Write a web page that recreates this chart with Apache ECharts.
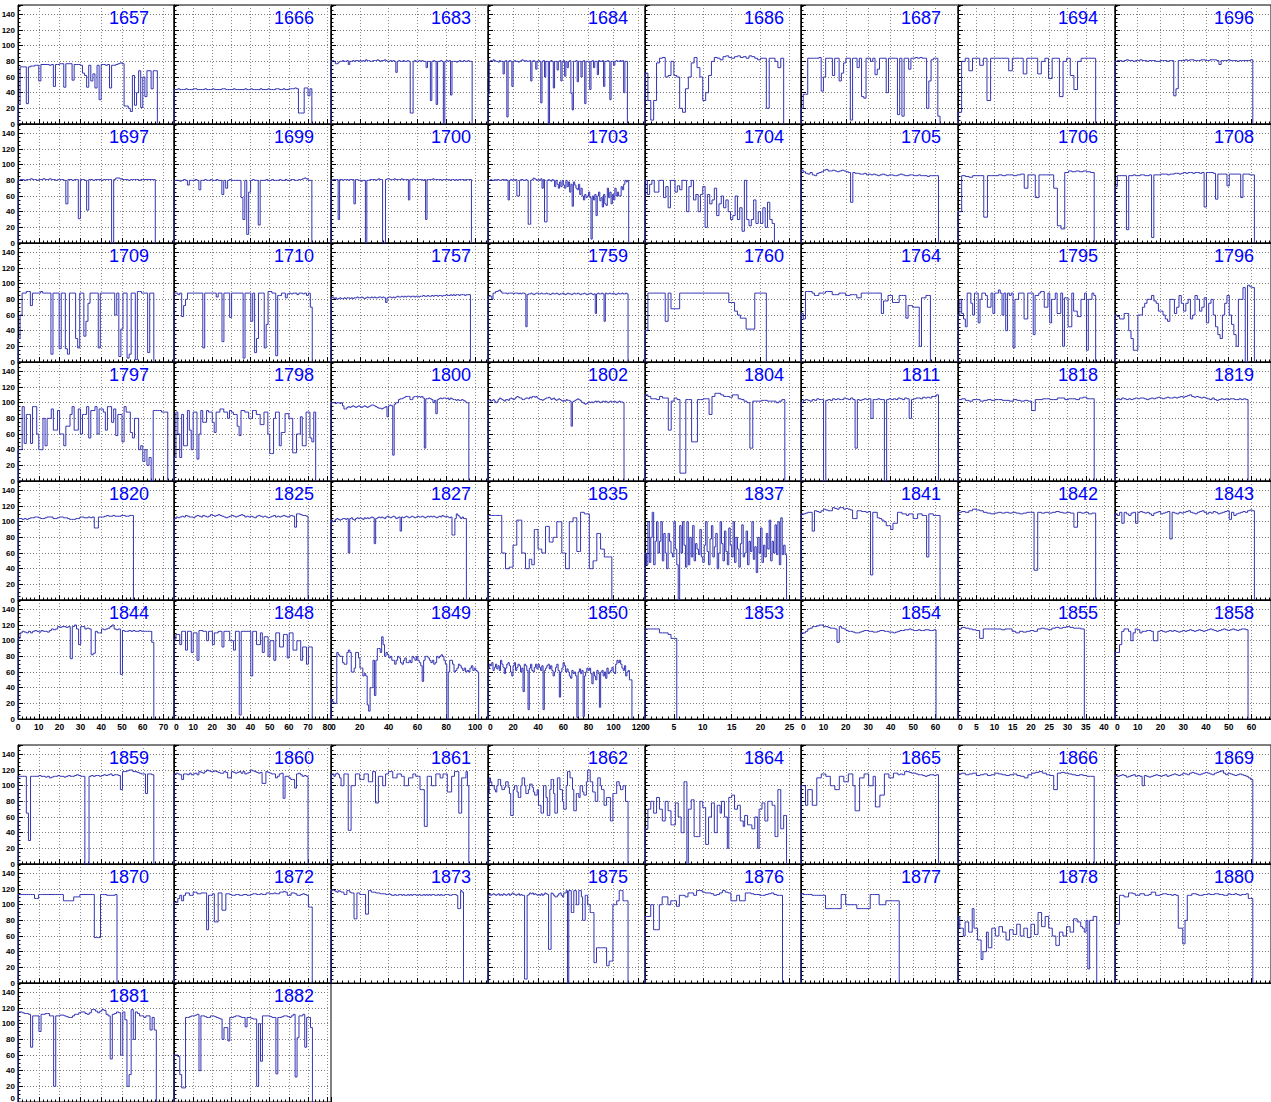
<!DOCTYPE html>
<html><head><meta charset="utf-8">
<script src="https://cdn.jsdelivr.net/npm/echarts@6/dist/echarts.min.js"></script>
<style>html,body{margin:0;padding:0;background:#fff}#c{width:1271px;height:1102px}</style>
</head><body><div id="c"></div>
<script>
const panelIds = [1657,1666,1683,1684,1686,1687,1694,1696,
 1697,1699,1700,1703,1704,1705,1706,1708,
 1709,1710,1757,1759,1760,1764,1795,1796,
 1797,1798,1800,1802,1804,1811,1818,1819,
 1820,1825,1827,1835,1837,1841,1842,1843,
 1844,1848,1849,1850,1853,1854,1855,1858,
 1859,1860,1861,1862,1864,1865,1866,1869,
 1870,1872,1873,1875,1876,1877,1878,1880,
 1881,1882];
const colXMax = [75,82,109,125,27,70,43,68.6];
const colXInterval = [10,10,20,20,5,10,5,10];
const yTicks = [0,20,40,60,80,100,120,140];
const dataEnds = [67,72,98,111,24,62,37.7,60.6,
 66,72,97.5,112,22.4,61.3,37.3,61.3,
 65.3,72.2,96.8,111.5,21,57.7,37.7,61.3,
 72,74,95.7,108.3,24.2,61.3,37.3,58.5,
 55.5,70,94,98.6,24.5,62,37.7,61.3,
 65.3,72.2,102.5,114.6,5.5,60.2,34.6,58.5,
 65.3,70,95.7,111.5,24.5,61.3,37.3,60.6,
 47.6,72.2,92,111.5,23.8,43.8,38,60.6,
 66.5,72.3];

const v1657=[25,73,73,73,26,73,74,74,75,75,55,76,76,76,76,75,76,48,76,76,77,77,47,77,77,77,56,76,76,76,75,65,62,47,75,55,64,46,75,31,76,76,75,76,46,75,75,76,77,78,77,23,23,20,16,62,24,40,68,21,60,35,68,68,45,68,68];
const v1666=[44,44,45,44,44,44,45,44,44,44,45,45,44,44,44,44,45,44,44,44,45,44,44,44,44,45,45,44,44,44,44,45,44,44,44,44,44,45,44,44,45,44,44,44,44,45,44,44,44,45,44,44,44,45,45,44,44,45,44,44,45,45,45,46,45,14,14,14,46,46,36,45];
const v1683=[80,81,80,77,77,79,80,80,81,80,80,81,76,80,80,81,80,81,81,80,81,80,81,80,82,81,81,80,80,81,81,81,82,81,80,81,81,82,81,80,80,81,80,81,80,66,80,81,80,80,81,80,80,81,80,14,14,80,81,80,80,81,80,81,80,80,72,80,80,30,80,81,80,25,80,80,81,80,0,80,81,80,81,37,80,80,80,79,80,81,80,80,81,80,80,81,80,80];
const v1684=[38,80,81,80,82,81,80,80,79,81,80,80,64,80,81,9,80,81,80,48,80,81,80,80,79,80,81,82,81,80,81,80,80,81,55,80,81,80,70,80,81,80,27,80,81,60,80,80,0,80,81,80,46,80,80,69,80,81,55,80,81,61,80,72,80,81,39,18,80,80,81,54,80,80,60,80,81,26,80,80,80,44,80,81,72,80,80,63,81,80,80,81,48,80,80,81,80,31,80,80,75,80,81,80,80,81,80,81,40,80,80];
const v1686=[65,30,5,30,78,84,85,60,62,80,62,60,20,15,45,60,78,85,72,60,30,40,62,80,85,84,82,86,87,85,84,86,87,85,86,84,87,86,84,82,84,84,20,84,84,80,72,84];
const v1687=[20,38,38,84,84,84,84,84,85,42,60,84,84,84,62,84,84,55,65,78,84,84,5,84,84,72,84,35,33,84,84,80,84,63,70,84,84,84,40,84,84,84,84,12,84,10,84,84,70,84,84,85,84,85,84,84,20,55,82,84,84,10];
const v1694=[15,80,84,68,84,84,75,84,30,84,84,84,84,84,68,84,84,84,64,84,84,84,64,80,84,58,84,84,35,80,84,62,44,80,84,84,84,84];
const v1696=[80,81,81,80,81,82,81,81,80,81,81,82,81,81,80,81,81,81,80,80,81,81,81,80,81,81,36,45,81,81,81,82,81,82,82,81,81,81,82,82,81,81,82,82,82,81,76,81,81,81,82,81,81,81,80,81,81,81,81,81,82];
const v1697=[80,81,81,80,81,81,82,81,81,80,81,81,82,81,81,82,81,81,80,81,81,81,80,50,81,81,80,81,81,31,81,81,80,42,81,81,80,81,81,81,80,81,81,81,81,0,81,83,83,82,81,81,81,80,81,81,81,81,80,81,81,81,81,81,81,81];
const v1699=[80,80,80,79,80,81,80,74,80,80,80,81,80,68,80,80,81,80,80,81,80,80,81,80,80,62,80,70,80,81,80,80,80,80,80,58,30,80,11,65,80,81,80,80,23,80,80,80,81,80,80,81,80,80,80,81,80,80,81,80,80,81,81,80,80,81,81,82,83,82,80,80];
const v1700=[80,81,81,81,81,30,81,81,80,81,81,81,80,81,81,81,50,81,81,80,80,79,80,80,0,80,80,81,81,81,81,80,81,82,81,81,0,0,81,82,82,81,81,81,82,81,81,81,81,82,81,81,81,81,55,81,81,82,81,81,81,81,81,81,80,81,30,81,81,81,81,82,81,81,81,81,81,80,81,81,81,81,81,80,81,81,80,81,80,81,81,81,81,80,81,81,81,81];
const v1703=[80,80,81,80,80,81,80,81,81,80,80,81,81,80,81,80,55,80,81,80,81,80,81,60,60,80,81,81,80,80,81,80,24,24,80,81,83,82,81,80,81,80,82,70,81,27,27,80,81,80,79,81,80,72,80,75,70,78,72,80,74,70,80,72,78,65,75,47,78,74,70,68,75,62,70,60,55,62,58,60,65,58,5,60,55,62,35,60,65,54,58,46,62,50,48,70,58,65,50,62,55,70,60,65,60,60,72,68,75,80,78,80];
const v1704=[80,62,75,80,65,65,80,80,58,72,45,80,80,65,73,68,80,80,40,72,80,55,62,40,62,72,20,62,50,55,70,35,50,60,45,55,40,30,35,60,30,45,15,80,30,22,30,55,25,40,25,45,20,52,30,25];
const v1705=[93,91,89,88,90,87,86,89,90,91,93,94,92,92,93,92,91,92,93,92,91,90,52,90,89,89,88,88,89,87,88,87,88,87,86,87,88,87,86,87,87,86,86,87,88,87,86,86,87,87,86,86,87,86,86,86,85,86,86,86,86];
const v1706=[40,86,85,84,86,86,86,33,86,86,86,87,86,87,87,86,87,88,70,87,87,58,87,87,87,87,70,22,18,90,92,91,92,91,92,91,90];
const v1708=[72,86,86,86,86,17,86,86,87,86,86,87,87,86,86,87,7,87,87,87,88,88,88,87,88,88,89,89,88,89,90,89,90,90,89,90,90,89,90,46,90,90,90,89,56,88,88,88,88,73,88,88,88,88,88,58,88,88,88,87,87];
const v1709=[30,60,88,88,90,90,72,88,88,88,88,90,88,88,88,88,10,88,88,88,17,88,88,17,10,88,88,88,30,18,88,88,33,52,75,88,88,88,88,18,88,88,88,88,88,88,88,60,88,7,42,88,88,5,10,88,88,3,90,90,88,88,88,12,88,88];
const v1710=[88,88,86,88,58,72,80,88,88,88,88,88,88,88,88,18,88,88,88,88,88,88,83,88,88,26,88,88,88,57,88,88,88,88,88,88,5,88,88,88,52,88,12,30,88,88,88,18,48,90,90,88,88,8,85,85,88,88,82,87,88,87,88,88,86,88,88,87,88,85,88,70];
const v1757=[82,83,81,82,80,81,82,81,81,82,81,82,82,81,82,81,82,82,83,82,82,83,82,81,82,83,82,82,83,82,83,82,82,83,83,82,83,82,76,82,83,83,82,83,82,83,84,83,83,84,83,84,83,84,84,83,84,84,83,84,84,83,84,84,85,84,84,85,84,84,85,84,85,85,84,85,85,84,85,85,86,85,85,86,85,86,85,86,86,85,86,86,86,85,86,86,86];
const v1759=[84,84,84,80,88,88,90,90,91,92,90,88,88,88,88,87,88,88,88,88,87,88,88,88,87,88,87,88,88,87,45,86,87,87,88,87,86,87,88,88,87,87,88,87,87,87,88,87,87,86,87,88,87,87,88,87,86,87,87,88,87,86,87,88,87,87,86,87,88,87,87,88,87,86,87,87,88,87,86,87,87,88,87,86,87,62,87,88,87,87,88,87,52,88,87,87,88,87,87,88,87,86,87,88,87,87,88,87,87,88,87];
const v1760=[40,88,88,88,88,88,88,52,88,68,68,68,88,88,88,88,88,88,88,88,88,88,88,88,88,88,88,88,88,76,76,65,60,56,56,42,42,42,88,88,88,88];
const v1764=[62,55,90,90,90,88,85,85,88,88,88,90,90,90,86,86,86,88,88,88,85,85,86,86,86,82,82,88,88,88,88,88,88,88,88,88,62,78,78,85,85,76,76,76,85,85,85,56,72,72,70,70,70,20,82,82,85,85];
const v1795=[60,80,62,55,45,88,88,75,60,88,88,50,80,88,88,85,70,70,88,62,88,88,92,88,60,88,40,88,85,88,18,80,80,88,88,88,55,55,88,88,88,35,85,85,88,90,90,70,70,88,50,80,80,88,62,62,88,20,82,82,45,45,88,65,65,58,58,80,80,88,15,80,80,88,85];
const v1796=[60,58,55,55,62,62,40,30,15,15,60,60,70,75,80,80,85,78,75,65,65,60,55,52,80,80,62,70,85,75,65,75,80,55,60,85,80,65,70,82,50,75,80,60,45,35,30,60,75,85,60,48,35,20,80,80,95,0,98,96,95];
const v1797=[40,40,95,48,85,85,48,95,95,60,40,40,80,45,80,80,92,65,65,90,60,60,45,70,70,85,95,65,65,92,60,85,85,95,55,90,90,95,60,92,92,88,65,95,95,75,92,58,85,85,50,95,88,88,62,55,80,80,40,45,25,40,20,30,0,90,90,90,90,88,88,88];
const v1798=[30,88,60,30,85,45,45,90,65,40,88,88,28,60,90,75,75,90,88,88,75,62,88,88,92,92,88,88,80,90,88,85,85,70,58,90,90,88,88,80,80,90,90,85,85,72,72,88,88,60,35,35,80,88,88,45,62,62,86,86,80,80,36,36,60,60,82,45,45,88,88,55,50,88];
const v1800=[100,100,100,99,100,100,99,100,96,92,92,94,95,94,95,96,95,94,95,96,95,94,95,96,95,94,95,96,97,97,96,95,94,93,93,92,93,94,95,82,96,97,96,33,98,100,100,104,105,105,106,107,108,108,108,104,104,107,108,108,107,108,107,108,106,42,105,105,106,105,104,100,103,86,104,105,106,105,106,106,105,106,104,106,105,104,104,103,104,103,103,104,103,102,100,100];
const v1802=[103,104,102,103,104,102,100,101,104,106,105,104,103,102,104,104,103,105,106,105,104,105,107,108,107,106,106,104,104,105,106,106,105,107,106,108,108,107,108,106,105,104,104,103,104,105,106,106,107,106,104,105,106,104,103,104,105,104,103,102,103,102,104,103,103,102,70,101,102,103,104,105,104,103,101,100,99,98,99,100,101,100,101,100,101,102,101,102,101,100,101,102,101,102,101,100,101,102,101,101,102,101,100,101,102,101,101,100];
const v1804=[110,108,105,105,104,108,106,106,65,102,106,104,10,10,104,104,50,50,104,104,105,105,85,108,112,112,110,108,108,107,110,110,105,104,102,100,42,102,102,102,103,103,102,102,102,100,102,104];
const v1811=[100,103,104,103,102,104,103,105,104,104,0,103,104,103,105,104,105,104,104,106,105,104,106,104,42,104,103,104,105,104,105,80,104,104,105,104,104,0,104,105,104,105,104,106,105,104,106,105,80,104,105,106,106,105,107,106,107,106,108,108,110];
const v1818=[104,105,103,102,104,104,102,103,104,103,104,104,103,103,102,104,103,102,103,102,90,104,104,105,105,104,104,106,106,104,105,105,104,106,107,105,105];
const v1819=[104,105,104,106,105,104,105,104,105,106,105,106,106,105,104,105,106,105,106,107,106,105,106,107,106,106,107,106,107,108,107,108,109,110,108,107,108,107,106,107,106,105,104,106,104,103,104,105,104,105,104,105,105,104,104,105,104,105,104];
const v1820=[104,104,103,104,103,104,105,105,106,106,105,104,104,105,106,106,106,104,104,105,106,106,105,105,104,103,103,103,104,104,106,106,105,105,106,105,106,92,92,106,106,106,107,108,107,107,108,107,107,107,108,108,107,107,108,108];
const v1825=[104,106,105,106,107,106,108,107,106,106,105,107,108,107,106,108,107,106,107,109,108,107,108,109,108,107,106,105,106,107,108,107,106,107,108,109,108,106,107,106,107,106,105,107,108,107,106,107,106,105,106,107,108,106,107,106,107,108,107,106,107,108,107,93,110,110,109,108,108,107];
const v1827=[102,100,101,103,104,103,102,103,104,104,103,104,60,104,105,103,102,104,105,104,105,104,103,105,104,105,104,105,106,105,72,104,105,106,105,106,105,104,106,107,106,105,106,107,106,104,105,106,88,106,105,106,107,106,105,106,107,106,105,106,107,106,106,107,106,105,106,107,106,107,106,107,106,105,106,107,106,108,107,106,107,106,105,106,83,83,104,110,108,106,104,106,104,104];
const v1835=[108,108,108,108,108,108,108,108,108,108,108,60,60,60,40,40,40,42,42,42,70,70,70,102,102,102,102,60,60,60,40,40,40,52,52,45,45,90,90,90,65,65,65,60,60,60,94,94,94,74,74,74,80,80,80,100,100,100,100,60,60,60,40,40,40,100,100,100,105,105,105,62,62,62,112,112,112,110,110,110,110,40,40,40,50,50,50,85,85,85,65,65,65,55,55,55,55,55,55];
const v1837=[60,45,100,48,80,112,45,75,100,60,75,100,50,85,60,40,85,75,60,55,100,65,45,0,95,60,100,70,42,100,45,80,55,95,50,72,65,58,90,55,48,70,100,62,45,78,95,55,68,85,40,60,100,72,50,88,62,45,92,70,55,100,48,80,65,42,72,96,55,60,88,45,75,62,100,52,68,35,80,60,92,48,70,55,85,65,102,50,75,60,96,58,100,45,105,58,70,58];
const v1841=[110,110,111,112,112,88,114,113,112,114,116,115,114,114,118,117,116,118,118,116,117,116,115,104,104,114,114,113,113,112,113,32,112,112,105,104,102,100,95,95,90,98,98,112,112,110,110,108,110,110,104,104,110,110,108,108,55,110,110,108,108,108];
const v1842=[112,113,112,114,116,115,114,112,111,110,111,112,111,112,111,112,111,110,111,112,112,38,112,111,112,111,112,113,112,111,112,111,93,112,111,112,110,111];
const v1843=[110,108,112,98,112,110,108,111,112,98,112,113,112,111,112,110,108,111,112,113,110,111,112,113,78,112,111,110,112,111,112,113,114,112,111,110,112,113,114,112,110,112,111,113,112,110,111,112,113,114,103,112,108,110,111,112,113,112,114,115,114];
const v1844=[103,110,112,111,110,112,110,112,113,112,111,113,112,112,111,113,115,114,115,118,117,118,118,117,118,77,118,120,115,95,118,118,115,116,115,82,84,112,110,110,115,114,115,116,118,120,115,114,115,57,113,112,112,113,112,113,112,112,113,112,112,112,112,112,98];
const v1848=[102,108,108,95,112,112,88,112,112,85,110,110,75,113,113,112,112,100,112,112,95,110,110,112,112,92,112,112,112,100,100,88,112,112,5,112,112,112,112,112,55,112,112,95,95,110,85,105,105,80,100,100,75,110,110,92,92,108,108,78,110,110,88,88,100,100,75,92,92,70,92,92];
const v1849=[25,22,20,20,85,82,80,80,72,70,70,85,88,85,60,60,65,85,85,78,65,65,55,58,55,18,10,40,40,75,30,75,90,90,85,105,95,80,85,82,78,80,75,75,70,75,80,78,72,70,75,78,72,72,75,72,80,78,75,80,75,72,68,48,75,80,80,78,75,72,75,70,72,80,78,80,82,80,75,70,0,60,75,75,70,60,62,65,70,68,65,62,65,60,62,60,65,68,62,65,62,60];
const v1850=[65,70,68,72,62,66,70,64,68,62,75,70,66,58,65,70,72,68,60,55,68,72,62,66,70,68,60,65,35,70,68,62,12,65,70,62,60,66,70,64,70,66,62,68,12,62,65,68,70,64,68,62,55,60,66,70,62,28,60,65,72,68,60,64,60,55,52,62,58,60,55,2,60,64,58,62,3,55,60,65,62,65,58,45,60,55,50,62,58,15,60,62,55,60,52,65,58,60,62,66,60,58,70,75,72,75,70,65,62,68,55,60,62,50,50];
const v1853=[115,115,115,115,115,110,110,110,108,103,103];
const v1854=[110,110,112,115,116,118,118,119,120,120,118,118,117,116,116,115,98,118,116,115,113,112,112,111,110,110,111,112,113,113,112,112,111,111,112,113,113,112,112,111,111,110,111,112,113,113,114,114,115,114,113,113,114,113,113,114,114,113,113,114];
const v1855=[115,117,116,115,114,113,103,115,115,115,115,115,114,115,115,112,110,112,111,112,113,112,115,116,115,114,116,117,116,117,118,117,116,116,115];
const v1858=[85,85,95,112,115,115,112,100,110,115,114,110,112,112,113,113,112,100,100,112,113,112,111,112,113,112,113,112,111,112,113,112,113,114,113,112,113,114,113,112,113,114,115,114,113,112,113,114,115,114,113,114,115,114,113,114,115,115,114];
const v1859=[112,112,112,112,65,30,112,112,112,112,113,112,112,111,112,110,111,112,112,113,112,112,111,112,113,112,112,113,114,113,112,112,0,0,112,113,112,113,113,112,113,114,113,114,115,113,114,114,113,95,118,118,119,120,120,118,118,117,116,115,115,90,115,115,114];
const v1860=[115,116,115,114,108,115,115,114,116,114,115,116,114,118,117,116,118,120,119,118,118,119,118,117,116,116,118,117,110,110,118,117,116,117,118,116,118,115,116,117,120,119,118,117,116,117,103,103,118,117,116,115,115,110,112,115,116,84,112,112,110,108,108,97,115,116,114,112,113,112];
const v1861=[115,115,112,115,116,114,110,100,100,115,115,115,43,43,100,100,100,115,115,115,108,108,108,115,115,115,105,105,105,118,118,78,78,112,112,112,100,100,115,115,118,118,118,110,110,110,115,115,115,112,112,100,100,100,110,110,110,115,115,112,112,112,95,95,95,48,48,112,112,112,100,100,100,115,115,115,110,110,115,115,115,92,92,92,112,112,118,118,118,65,65,110,110,110,118,100];
const v1862=[90,110,105,100,100,95,92,100,108,108,100,95,95,98,105,105,98,90,62,62,95,100,100,92,85,85,100,110,110,100,90,90,95,102,102,98,92,88,88,95,75,75,65,65,100,100,85,62,62,95,108,108,90,65,65,110,110,95,95,80,70,70,100,118,118,110,110,95,68,68,90,90,85,100,100,92,88,88,105,120,120,105,105,92,92,80,80,110,110,100,95,95,75,75,85,85,85,55,55,90,90,90,105,105,100,95,95,100,100,80,80];
const v1864=[45,45,70,70,80,80,65,65,85,85,70,70,55,55,80,80,68,68,50,50,50,78,78,60,60,40,40,105,105,0,70,70,82,82,35,35,35,35,80,80,72,72,25,25,60,60,78,78,40,40,75,75,65,80,80,60,60,20,85,85,88,88,70,70,75,75,55,55,48,62,62,50,50,50,45,45,60,60,20,70,70,78,78,55,55,80,80,80,75,75,35,35,95,95,45,45,62,62];
const v1865=[100,100,75,95,95,75,75,110,110,115,115,112,112,100,100,95,95,112,112,105,105,115,115,100,68,68,110,110,115,115,100,100,112,73,73,88,88,115,115,110,110,116,116,114,115,114,118,118,117,116,116,115,114,114,113,112,113,114,114,113,114];
const v1866=[115,116,114,115,116,113,114,115,113,114,116,115,114,113,114,115,113,112,110,114,116,117,118,116,114,113,95,116,117,116,115,114,113,114,113,112,112];
const v1869=[113,112,113,114,113,111,112,113,114,112,113,112,100,113,112,111,112,113,114,113,112,113,114,112,113,114,115,114,113,114,116,115,114,116,117,116,115,114,115,116,117,116,115,114,116,117,118,119,116,114,116,115,114,113,114,115,114,113,112,110,108];
const v1870=[113,113,113,113,113,113,113,113,108,108,113,113,113,113,113,113,113,113,113,113,113,113,105,105,105,105,105,110,110,110,113,113,113,113,113,113,113,58,58,58,113,113,113,112,112,112,112,113];
const v1872=[103,103,108,112,105,112,115,115,112,112,116,116,114,114,115,115,115,68,112,112,114,78,78,115,115,93,93,114,114,113,112,112,113,113,112,112,113,113,112,112,113,114,114,113,113,114,113,113,115,115,114,114,115,114,114,116,116,117,116,112,112,115,115,114,112,112,113,114,113,112,97,97];
const v1873=[118,119,118,117,116,118,117,116,116,113,113,118,118,116,115,115,82,82,115,115,113,113,113,113,88,88,118,118,116,116,116,115,115,115,114,114,114,114,113,113,114,113,112,112,113,112,112,113,113,112,113,112,112,113,112,113,112,113,113,112,112,113,112,112,113,112,113,112,113,112,113,113,112,112,113,112,113,112,112,113,113,113,112,112,113,113,113,112,95,95,118,116];
const v1875=[112,113,112,113,114,113,112,113,114,112,113,112,114,113,112,113,114,112,113,115,114,113,112,113,114,112,113,112,112,5,5,112,113,115,114,115,113,114,113,112,113,112,114,112,113,115,114,113,43,43,115,114,112,110,110,112,114,115,112,110,115,115,118,0,118,118,90,90,118,118,100,100,118,118,110,80,80,112,112,100,100,90,90,90,26,26,45,45,45,45,45,45,45,45,22,22,28,28,28,100,100,100,105,105,118,118,118,105,105,105,105];
const v1876=[85,85,100,68,68,100,110,110,100,105,105,98,112,112,110,115,115,112,118,118,116,115,115,114,112,113,115,118,116,115,105,105,112,105,105,115,115,114,113,113,112,112,113,114,115,113,112,112];
const v1877=[114,113,113,113,113,112,112,112,112,112,112,95,95,95,95,95,95,95,113,113,100,100,100,100,100,95,95,95,95,95,95,113,113,113,113,100,100,100,105,105,105,105,105,105];
const v1878=[85,70,70,60,78,78,65,65,95,70,70,55,55,30,40,40,65,45,45,70,70,60,60,72,72,65,65,55,55,68,68,62,62,75,75,60,60,70,70,58,58,75,75,62,62,90,90,72,72,85,85,70,70,60,60,48,48,65,65,60,60,72,72,65,65,82,82,78,78,72,70,65,80,18,80,80,85,85];
const v1880=[75,75,112,112,110,110,115,115,114,112,112,114,114,112,112,113,116,116,112,112,113,114,114,113,113,112,113,112,70,70,50,80,112,112,114,114,113,112,112,113,113,114,113,113,114,114,113,113,112,112,114,113,113,114,113,112,113,113,114,108,108];
const v1881=[115,115,114,113,113,112,70,110,110,110,90,112,112,113,113,110,110,20,110,110,111,111,110,109,108,108,110,112,112,114,115,115,113,112,114,118,118,116,114,116,118,117,112,110,55,112,113,115,114,60,115,105,20,35,118,80,115,113,110,110,108,110,110,92,108,92];
const v1882=[60,60,58,35,18,18,108,108,109,110,110,111,112,40,110,110,109,108,108,110,110,109,108,107,106,80,95,95,78,108,108,109,110,110,109,108,108,96,108,108,107,106,106,20,100,52,110,110,110,110,109,108,108,36,108,108,109,110,110,109,108,110,112,32,82,110,110,112,70,108,108,95];

const values = [v1657,v1666,v1683,v1684,v1686,v1687,v1694,v1696,
 v1697,v1699,v1700,v1703,v1704,v1705,v1706,v1708,
 v1709,v1710,v1757,v1759,v1760,v1764,v1795,v1796,
 v1797,v1798,v1800,v1802,v1804,v1811,v1818,v1819,
 v1820,v1825,v1827,v1835,v1837,v1841,v1842,v1843,
 v1844,v1848,v1849,v1850,v1853,v1854,v1855,v1858,
 v1859,v1860,v1861,v1862,v1864,v1865,v1866,v1869,
 v1870,v1872,v1873,v1875,v1876,v1877,v1878,v1880,
 v1881,v1882];

const colLeft = [18,174,331,488,645,801,958,1115,1271];
const rowTop = [5,124,243,362,481,600,745,864,983];
const PANEL_H = 119;
const Y_MAX = 152;
const LABEL_FONT = '"Liberation Sans", Arial, sans-serif';

const grids=[], xAxes=[], yAxes=[], series=[], texts=[];
panelIds.forEach((id,i)=>{
  const r=Math.floor(i/8), c=i%8;
  const left=colLeft[c], width=colLeft[c+1]-colLeft[c];
  grids.push({left:left, top:rowTop[r], width:width, height:PANEL_H, show:true,
    borderColor:'#000', borderWidth:1, backgroundColor:'rgba(0,0,0,0)',
    containLabel:false, outerBoundsMode:'none'});
  xAxes.push({gridIndex:i, type:'value', min:0, max:colXMax[c], interval:colXInterval[c],
    axisLine:{show:true, onZero:false, lineStyle:{color:'#000', width:1}},
    axisTick:{show:true, inside:true, length:5, lineStyle:{color:'#000'}},
    minorTick:{show:true, splitNumber:5, length:2.5, lineStyle:{color:'#000'}},
    splitLine:{show:true, lineStyle:{type:[1,2], color:'#8a8a8a', width:1}},
    minorSplitLine:{show:false},
    axisLabel:{show:r===5, fontSize:8.5, fontWeight:'bold', color:'#000', margin:3,
      fontFamily:LABEL_FONT, showMaxLabel:false, showMinLabel:true, hideOverlap:false,
      alignMinLabel: c===0 ? 'center' : 'left'}});
  yAxes.push({gridIndex:i, type:'value', min:0, max:Y_MAX, interval:20,
    axisLine:{show:true, onZero:false, lineStyle:{color:'#000', width:1}},
    axisTick:{show:true, inside:true, length:5, lineStyle:{color:'#000'}},
    minorTick:{show:true, splitNumber:4, length:2.5, lineStyle:{color:'#000'}},
    splitLine:{show:true, lineStyle:{type:[1,2], color:'#7a7a7a', width:1}},
    minorSplitLine:{show:false},
    axisLabel:{show:c===0, fontSize:8, fontWeight:'bold', color:'#000', margin:3,
      fontFamily:LABEL_FONT, showMaxLabel:false, showMinLabel:true, hideOverlap:false,
      verticalAlignMinLabel: r===8 ? 'bottom' : 'middle',
      formatter:(v)=> yTicks.indexOf(v)>=0 ? String(v) : ''}});
  const vals=values[i], end=dataEnds[i], n=vals.length, w=end/n;
  const pts=[[0,0]];
  vals.forEach((v,k)=>pts.push([k*w, v]));
  pts.push([end, vals[n-1]]);
  pts.push([end, 0]);
  series.push({type:'line', xAxisIndex:i, yAxisIndex:i, step:'end', symbol:'none',
    showSymbol:false, silent:true, clip:true, z:5,
    lineStyle:{color:'#3434b4', width:1}, data:pts});
  const right = colLeft[c+1];
  const cx = c===0 ? 129 : right-37;
  texts.push({type:'text', x:cx, y:rowTop[r]+13, z:20, silent:true,
    style:{text:String(id), fill:'#0000ff', font:'18px '+LABEL_FONT,
      align:'center', verticalAlign:'middle', textAlign:'center', textVerticalAlign:'middle'}});
});

const chart = echarts.init(document.getElementById('c'), null, {renderer:'svg'});
chart.setOption({
  animation:false,
  backgroundColor:'#fff',
  grid:grids, xAxis:xAxes, yAxis:yAxes, series:series,
  graphic:{elements:texts}
});
</script>
</body></html>
